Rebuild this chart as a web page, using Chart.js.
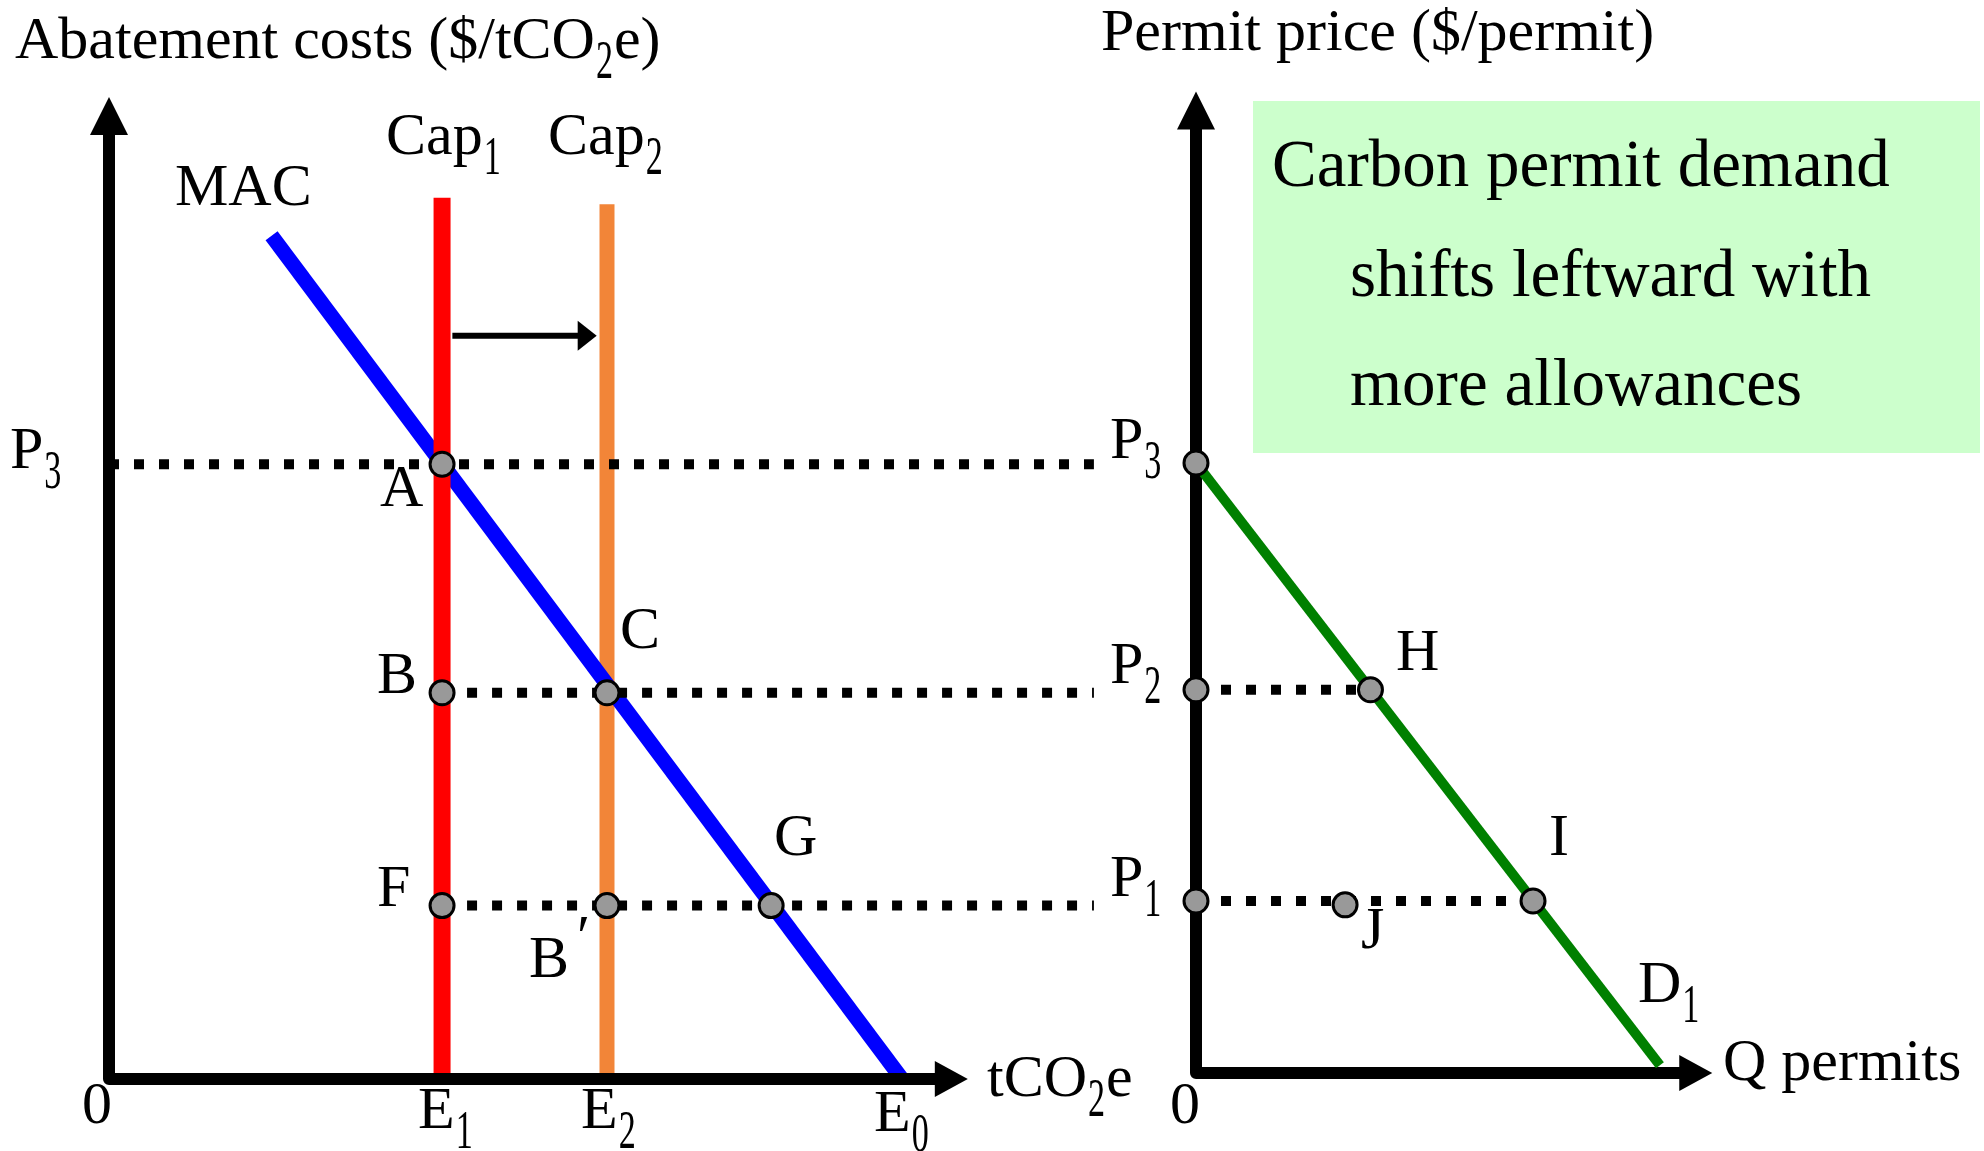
<!DOCTYPE html>
<html><head><meta charset="utf-8">
<script src="https://cdn.jsdelivr.net/npm/chart.js@4.4.1/dist/chart.umd.min.js"></script>
<style>
html,body{margin:0;padding:0;background:#fff;overflow:hidden}
#wrap{position:relative;width:1984px;height:1151px;background:#fff}
canvas{position:absolute;left:0;top:0}
</style></head><body>
<div id="wrap"><canvas id="leftPanel" width="1984" height="1151"></canvas><canvas id="rightPanel" width="1984" height="1151"></canvas></div>
<script>
// ================= DATA =================
// price levels (shared by both panels)
const priceNames  = ['P1', 'P2', 'P3'];
const priceValues = [2.2, 4.9, 7.8];
// emission levels on the left panel
const emissionNames  = ['E1', 'E2', 'E0'];
const emissionValues = [4.2, 6.28, 10];
// marginal abatement cost curve (left panel)
const macX = [2.05, 10];
const macY = [10.7, 0];
// caps (vertical lines), top values
const capNames = ['Cap1', 'Cap2'];
const capX     = [4.2, 6.28];
const capTopY  = [11.18, 11.1];
// shift arrow between caps
const shiftArrowX = [4.33, 6.15];
const shiftArrowY = [9.43, 9.43];
// left-panel points
const leftPointNames = ['A', 'B', 'C', 'F', "B'", 'G'];
const leftPointX     = [4.2, 4.2, 6.28, 4.2, 6.28, 8.35];
const leftPointY     = [7.8, 4.9, 4.9, 2.2, 2.2, 2.2];
// left dotted guides: [start x, end x] per price level P1,P2,P3
const leftGuideStart = [4.2, 4.2, 0];
const leftGuideEnd   = [12.42, 12.42, 12.42];
// permit demand curve D1 (right panel)
const demandX = [0, 5.85];
const demandY = [7.8, 0.1];
// right-panel points
const rightPointNames = ['P3', 'P2', 'H', 'P1', 'J', 'I'];
const rightPointX     = [0, 0, 2.2, 0, 1.88, 4.25];
const rightPointY     = [7.8, 4.9, 4.9, 2.2, 2.15, 2.2];
// right dotted guides per price level P1,P2
const rightGuideY   = [2.2, 4.9];
const rightGuideEnd = [4.25, 2.2];
// axis extents (arrow tips)
const leftAxisTip  = [10.83, 12.46];
const rightAxisTip = [6.51, 12.55];

// ================= LAYOUT =================
const W = 1984, H = 1151;
const GEO_L = {ox:109, oy:1079, sx:79.3, sy:79.0, xmax:13, ymax:13.5};
const GEO_R = {ox:1196, oy:1073, sx:79.3, sy:78.2, xmax:8, ymax:13.5};
const FONT = '"Liberation Serif", "Times New Roman", Times, serif';

function padding(g){
  return {left:g.ox, right:W-(g.ox+g.xmax*g.sx), top:g.oy-g.ymax*g.sy, bottom:H-g.oy};
}
function pts(xs, ys){ return xs.map((x,i)=>({x, y:ys[i]})); }

function lineDS(label, data, color, width, order, extra){
  return Object.assign({label, data, showLine:true, borderColor:color, borderWidth:width,
    pointRadius:0, pointHoverRadius:0, fill:false, tension:0, clip:false, order,
    borderCapStyle:'butt'}, extra||{});
}
function dotDS(label, data, order){
  return lineDS(label, data, '#000', 10, order, {borderDash:[10,15]});
}
function markerDS(label, data, order){
  return {label, data, showLine:false, pointRadius:12, pointHoverRadius:12,
    pointBackgroundColor:'#999999', pointBorderColor:'#000', pointBorderWidth:3,
    clip:false, order};
}

// rich text: "_x" => subscript char
function drawRich(ctx, str, x, y, size){
  let cx = x;
  let i = 0;
  while (i < str.length){
    if (str[i] === '_' && i+1 < str.length){
      const s = str[i+1];
      ctx.save();
      ctx.font = Math.round(size*0.92) + 'px ' + FONT;
      const w = ctx.measureText(s).width*0.62;
      ctx.translate(cx+1, y+20);
      ctx.scale(0.62, 1);
      ctx.fillText(s, 0, 0);
      ctx.restore();
      cx += w + 2;
      i += 2;
    } else {
      let j = i;
      while (j < str.length && str[j] !== '_') j++;
      const t = str.slice(i, j);
      ctx.font = size + 'px ' + FONT;
      ctx.fillText(t, cx, y);
      cx += ctx.measureText(t).width;
      i = j;
    }
  }
}

function drawAxes(chart, tip){
  const {ctx, scales:{x, y}} = chart;
  const x0 = x.getPixelForValue(0), y0 = y.getPixelForValue(0);
  const xt = x.getPixelForValue(tip[0]), yt = y.getPixelForValue(tip[1]);
  const headY = 38, hwY = 19, headX = 33, hwX = 18;
  ctx.save();
  ctx.strokeStyle = '#000'; ctx.fillStyle = '#000';
  ctx.lineWidth = 12; ctx.lineJoin = 'round'; ctx.lineCap = 'butt';
  ctx.beginPath();
  ctx.moveTo(x0, yt + headY - 2);
  ctx.lineTo(x0, y0);
  ctx.lineTo(xt - headX + 2, y0);
  ctx.stroke();
  ctx.beginPath();
  ctx.moveTo(x0, yt); ctx.lineTo(x0 - hwY, yt + headY); ctx.lineTo(x0 + hwY, yt + headY); ctx.closePath();
  ctx.fill();
  ctx.beginPath();
  ctx.moveTo(xt, y0); ctx.lineTo(xt - headX, y0 - hwX); ctx.lineTo(xt - headX, y0 + hwX); ctx.closePath();
  ctx.fill();
  ctx.restore();
}

const leftLabels = [
  ['Abatement costs ($/tCO_2e)', 15, 58],
  ['MAC', 175, 205],
  ['Cap_1', 386, 154],
  ['Cap_2', 548, 154],
  ['P_3', 10, 468],
  ['A', 380, 506],
  ['B', 377, 693],
  ['C', 620, 648],
  ['F', 377, 906],
  ['G', 774, 855],
  ['B', 529, 977],
  ['\u2032', 577, 956],
  ['E_1', 418, 1128],
  ['E_2', 581, 1128],
  ['E_0', 874, 1131],
  ['tCO_2e', 987, 1096],
  ['0', 82, 1123]
];
const rightLabels = [
  ['Permit price ($/permit)', 1101, 50],
  ['P_3', 1110, 458],
  ['P_2', 1110, 683],
  ['P_1', 1110, 896],
  ['H', 1396, 670],
  ['I', 1549, 855],
  ['J', 1361, 948],
  ['D_1', 1638, 1002],
  ['Q permits', 1723, 1080],
  ['0', 1170, 1123]
];
const boxRect = [1253, 101, 727, 352];
const boxLines = [
  ['Carbon permit demand', 1272, 186],
  ['shifts leftward with', 1350, 296],
  ['more allowances', 1350, 405]
];

function labelsPlugin(list){
  return {id:'labels', afterDraw(chart){
    const ctx = chart.ctx;
    ctx.save();
    ctx.fillStyle = '#000'; ctx.textBaseline = 'alphabetic'; ctx.textAlign = 'left';
    list.forEach(([t, x, y]) => drawRich(ctx, t, x, y, 60));
    ctx.restore();
  }};
}

// ================= LEFT CHART =================
const leftDatasets = [];
leftDatasets.push(markerDS('Left points', pts(leftPointX, leftPointY), 0));
priceValues.forEach((p, i) => {
  leftDatasets.push(dotDS(priceNames[i] + ' guide', [{x:leftGuideStart[i], y:p}, {x:leftGuideEnd[i], y:p}], 1));
});
leftDatasets.push(lineDS('Cap1', [{x:capX[0], y:0}, {x:capX[0], y:capTopY[0]}], '#ff0000', 17, 2));
leftDatasets.push(lineDS('MAC', pts(macX, macY), '#0000ff', 15, 3));
leftDatasets.push(lineDS('Cap2', [{x:capX[1], y:0}, {x:capX[1], y:capTopY[1]}], '#f28538', 15, 4));

new Chart(document.getElementById('leftPanel'), {
  type:'scatter',
  data:{datasets:leftDatasets},
  options:{
    responsive:false, animation:false, events:[],
    layout:{padding:padding(GEO_L)},
    plugins:{legend:{display:false}, tooltip:{enabled:false}},
    scales:{x:{type:'linear', display:false, min:0, max:GEO_L.xmax},
            y:{type:'linear', display:false, min:0, max:GEO_L.ymax}}
  },
  plugins:[
    {id:'bg', beforeDraw(chart){ const c=chart.ctx; c.save(); c.fillStyle='#fff'; c.fillRect(0,0,W,H); c.restore(); }},
    {id:'axesL', afterDatasetDraw(chart, args){
      if (chart.data.datasets[args.index].label === 'Cap1') {
        drawAxes(chart, leftAxisTip);
        // shift arrow
        const {ctx, scales:{x, y}} = chart;
        const x1 = x.getPixelForValue(shiftArrowX[0]), x2 = x.getPixelForValue(shiftArrowX[1]);
        const yy = y.getPixelForValue(shiftArrowY[0]);
        ctx.save();
        ctx.strokeStyle = '#000'; ctx.fillStyle = '#000'; ctx.lineWidth = 6;
        ctx.beginPath(); ctx.moveTo(x1, yy); ctx.lineTo(x2 - 17, yy); ctx.stroke();
        ctx.beginPath(); ctx.moveTo(x2, yy); ctx.lineTo(x2 - 19, yy - 15); ctx.lineTo(x2 - 19, yy + 15); ctx.closePath(); ctx.fill();
        ctx.restore();
      }
    }},
    labelsPlugin(leftLabels)
  ]
});

// ================= RIGHT CHART =================
const rightDatasets = [];
rightDatasets.push(markerDS('Right points', pts(rightPointX, rightPointY), 0));
rightGuideY.forEach((p, i) => {
  rightDatasets.push(dotDS('right guide ' + i, [{x:0, y:p}, {x:rightGuideEnd[i], y:p}], 1));
});
rightDatasets.push(lineDS('D1', pts(demandX, demandY), '#008000', 10, 2));

new Chart(document.getElementById('rightPanel'), {
  type:'scatter',
  data:{datasets:rightDatasets},
  options:{
    responsive:false, animation:false, events:[],
    layout:{padding:padding(GEO_R)},
    plugins:{legend:{display:false}, tooltip:{enabled:false}},
    scales:{x:{type:'linear', display:false, min:0, max:GEO_R.xmax},
            y:{type:'linear', display:false, min:0, max:GEO_R.ymax}}
  },
  plugins:[
    {id:'boxAxes', beforeDatasetsDraw(chart){
      const ctx = chart.ctx;
      ctx.save();
      ctx.fillStyle = '#ccffcc';
      ctx.fillRect(boxRect[0], boxRect[1], boxRect[2], boxRect[3]);
      ctx.fillStyle = '#000'; ctx.textBaseline = 'alphabetic'; ctx.textAlign = 'left';
      boxLines.forEach(([t, x, y]) => drawRich(ctx, t, x, y, 67));
      ctx.restore();
      drawAxes(chart, rightAxisTip);
    }},
    labelsPlugin(rightLabels)
  ]
});
</script>
</body></html>
